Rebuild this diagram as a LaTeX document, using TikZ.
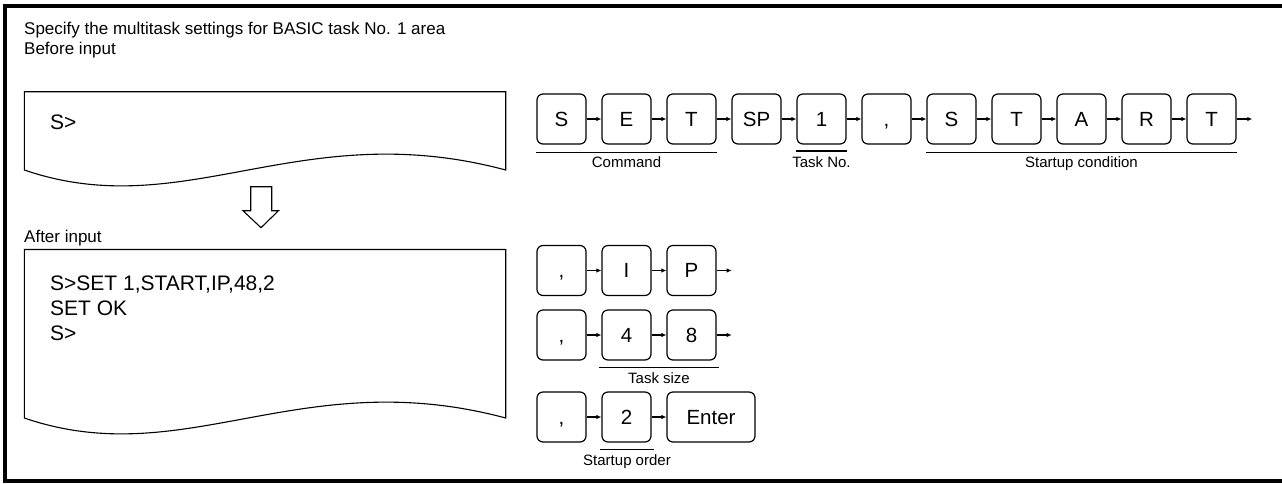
\documentclass[tikz,border=0pt]{standalone}
\usepackage{fontspec}
\setmainfont{Liberation Sans}
\usetikzlibrary{positioning,calc,arrows.meta}
\tikzset{
  keycap/.style  = {draw, line width=1.2pt, rounded corners=6pt, minimum width=49pt, minimum height=50pt,
                    inner sep=0pt, text height=14.8pt, text depth=0pt, font=\fontsize{20.5}{22}\selectfont},
  keywide/.style = {keycap, minimum width=88pt},
  flow/.style    = {-{Latex[length=5pt,width=4.5pt]}, line width=1.2pt},
  uline/.style   = {line width=1.3pt},
  ulab/.style    = {font=\fontsize{15}{17}\selectfont, inner sep=0pt, anchor=north},
  head/.style    = {font=\fontsize{17}{19}\selectfont, inner sep=0pt, anchor=base west},
  txt/.style     = {font=\fontsize{21}{23}\selectfont, inner sep=0pt, anchor=base west},
  screen/.style  = {draw, line width=1.1pt, fill=white},
}

\begin{document}
\begin{tikzpicture}[x=1pt,y=-1pt]
\path[use as bounding box] (0,0) rectangle (1282,483);

% ---- frame ---------------------------------------------------------------
\draw[line width=3.8pt, line join=miter] (1282,5.6) -- (4.8,5.6) -- (4.8,481) -- (1282,481);

\node[head] (title)  at (24,34)  {Specify the multitask settings for BASIC task No. 1 area};
\node[head] (before) at (24,54)  {Before input};
\node[head] (after)  at (24,242) {After input};

% ---- screens -------------------------------------------------------------
\draw[screen] (24.3,170) -- (24.3,91.7) -- (505.7,91.7) -- (505.7,170)
  .. controls (300,115) and (185,225) .. cycle;
\node[txt] (scra) at (50,129.5) {S>};

\draw[line width=1.1pt, line join=miter] (250.7,186.7) -- (271.7,186.7) -- (271.7,210.7) -- (278.5,210.7)
  -- (261,227.7) -- (243,210.7) -- (250.7,210.7) -- cycle;

\draw[screen] (24.3,418) -- (24.3,249.5) -- (505.7,249.5) -- (505.7,418)
  .. controls (300,363) and (185,473) .. cycle;
\node[txt] (scrb1) at (50,290.5) {S>SET 1,START,IP,48,2};
\node[txt] (scrb2) at (50,315.5) {SET OK};
\node[txt] (scrb3) at (50,340.5) {S>};

% ---- key sequence: SET 1,START -------------------------------------------
\foreach \t [count=\i] in {S,E,T,SP,1,{,},S,T,A,R,T}
  \node[keycap] (k\i) at ({561.5+65*(\i-1)},119) {\t};
\foreach \i [evaluate=\i as \j using int(\i+1)] in {1,...,10}
  \draw[flow] (k\i.east) -- (k\j.west);
\coordinate (kend) at (1252.3,119);
\draw[flow] (k11.east) -- (kend);

\draw[uline] ([yshift=-7.7pt]k1.south west) -- node[ulab, below=4pt] (lcmd) {Command} ([yshift=-7.7pt]k3.south east);
\draw[uline] ([yshift=-6.5pt]k5.south west) -- node[ulab, below=4.5pt] (ltask) {Task No.} ([yshift=-6.5pt]k5.south east);
\draw[uline] ([yshift=-7.7pt]k7.south west) -- node[ulab, below=4pt] (lcond) {Startup condition} ([yshift=-7.7pt]k11.south east);

% ---- ,IP ------------------------------------------------------------------
\foreach \t [count=\i] in {{,},I,P}
  \node[keycap] (ip\i) at ({561.5+65*(\i-1)},270.5) {\t};
\draw[flow] (ip1.east) -- (ip2.west);
\draw[flow] (ip2.east) -- (ip3.west);
\coordinate (ipend) at (731.7,270.5);
\draw[flow] (ip3.east) -- (ipend);

% ---- ,48 ------------------------------------------------------------------
\foreach \t [count=\i] in {{,},4,8}
  \node[keycap] (sz\i) at ({561.5+65*(\i-1)},335) {\t};
\draw[flow] (sz1.east) -- (sz2.west);
\draw[flow] (sz2.east) -- (sz3.west);
\coordinate (szend) at (731.7,335);
\draw[flow] (sz3.east) -- (szend);
\draw[uline] ([xshift=-2pt,yshift=-7pt]sz2.south west) -- node[ulab, below=4pt] (lsize) {Task size} ([xshift=2pt,yshift=-7pt]sz3.south east);

% ---- ,2 Enter -------------------------------------------------------------
\node[keycap]  (ord1) at (561.5,417) {,};
\node[keycap]  (ord2) at (626.5,417) {2};
\node[keywide] (ord3) at (711,417)   {Enter};
\draw[flow] (ord1.east) -- (ord2.west);
\draw[flow] (ord2.east) -- (ord3.west);
\draw[uline] ([xshift=-1pt,yshift=-7pt]ord2.south west) -- node[ulab, below=4pt] (lorder) {Startup order} ([xshift=2pt,yshift=-7pt]ord2.south east);

\end{tikzpicture}
\end{document}
